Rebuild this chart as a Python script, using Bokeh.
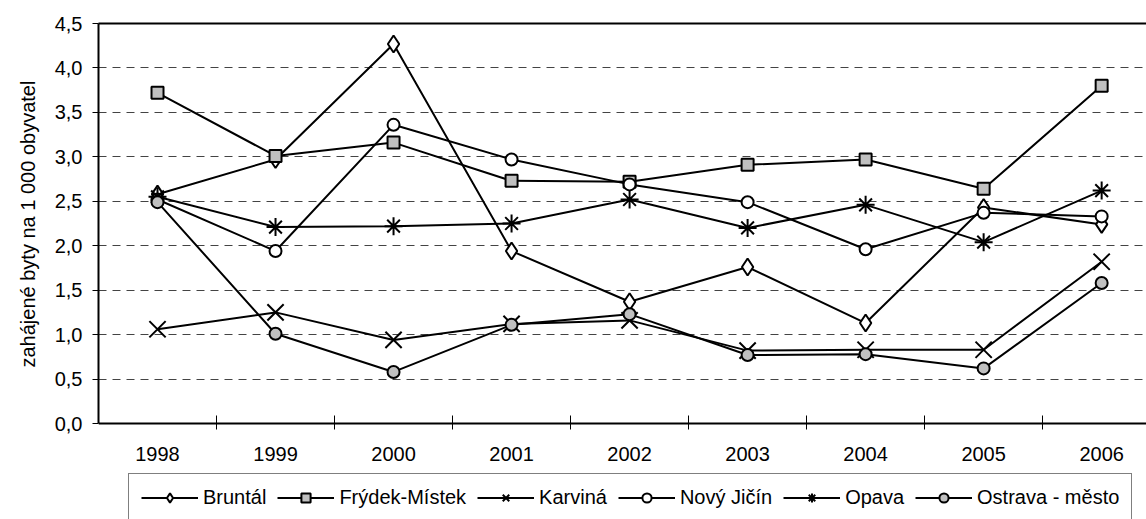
from bokeh.plotting import figure
from bokeh.models import (Range1d, FixedTicker, LinearAxis, Legend, LegendItem,
                          CustomJSTickFormatter, Title)
from bokeh.embed import file_html
from bokeh.resources import INLINE

years = [1998, 1999, 2000, 2001, 2002, 2003, 2004, 2005, 2006]
bruntal = [2.58, 2.97, 4.27, 1.94, 1.37, 1.76, 1.13, 2.43, 2.24]
frydek_mistek = [3.72, 3.01, 3.16, 2.73, 2.72, 2.91, 2.97, 2.64, 3.80]
karvina = [1.06, 1.25, 0.94, 1.12, 1.16, 0.82, 0.83, 0.83, 1.82]
novy_jicin = [2.52, 1.94, 3.36, 2.97, 2.69, 2.49, 1.96, 2.37, 2.33]
opava = [2.55, 2.21, 2.22, 2.25, 2.52, 2.20, 2.46, 2.04, 2.62]
ostrava_mesto = [2.49, 1.01, 0.58, 1.11, 1.23, 0.77, 0.78, 0.62, 1.58]

series_names = ["Bruntál", "Frýdek-Místek", "Karviná", "Nový Jičín", "Opava", "Ostrava - město"]
series_values = [bruntal, frydek_mistek, karvina, novy_jicin, opava, ostrava_mesto]
y_ticks = [0.0, 0.5, 1.0, 1.5, 2.0, 2.5, 3.0, 3.5, 4.0, 4.5]
grid_ticks = [0.5, 1.0, 1.5, 2.0, 2.5, 3.0, 3.5, 4.0]
y_min, y_max = 0.0, 4.5
y_title = "zahájené byty na 1 000 obyvatel"

FONT = "Liberation Sans"

# frame spans down to the bottom of the canvas so that the legend (drawn in
# the frame) can sit below the x axis, which is fixed at y = 0
p = figure(width=1146, height=519,
           x_range=Range1d(1997.5, 2006.38), y_range=Range1d(-1.08, y_max),
           output_backend="svg", toolbar_location=None,
           min_border_left=98, min_border_right=0, min_border_top=23,
           min_border_bottom=0)
p.outline_line_color = None
p.background_fill_color = "white"
p.border_fill_color = "white"

# x axis
xa = p.xaxis[0]
xa.fixed_location = y_min
xa.ticker = FixedTicker(ticks=years, minor_ticks=[y + 0.5 for y in years])
xa.major_tick_out = 0
xa.major_tick_in = 0
xa.minor_tick_in = 8
xa.minor_tick_out = 6
xa.minor_tick_line_color = "black"
xa.minor_tick_line_width = 1
xa.axis_line_color = "black"
xa.axis_line_width = 2
xa.major_label_text_font = FONT
xa.major_label_text_font_size = "20px"
xa.major_label_text_color = "black"
xa.major_label_standoff = 17

# y axis
ya = p.yaxis[0]
ya.bounds = (y_min, y_max)
ya.ticker = FixedTicker(ticks=y_ticks)
ya.formatter = CustomJSTickFormatter(code="return tick.toFixed(1).replace('.', ',')")
ya.major_tick_out = 6
ya.major_tick_in = 0
ya.minor_tick_out = 0
ya.minor_tick_in = 0
ya.major_tick_line_color = "black"
ya.axis_line_color = "black"
ya.axis_line_width = 2
ya.major_label_text_font = FONT
ya.major_label_text_font_size = "20px"
ya.major_label_text_color = "black"
ya.major_label_standoff = 10

# y axis title, placed on the 0 - 4.5 part of the frame
p.add_layout(Title(text=y_title, align="left", offset=152, standoff=26,
                   text_font=FONT, text_font_size="20px",
                   text_font_style="normal", text_color="black"), "left")

# top border line
top = LinearAxis(ticker=FixedTicker(ticks=[]), major_tick_out=0, major_tick_in=0,
                 minor_tick_out=0, minor_tick_in=0, major_label_standoff=0,
                 major_label_text_font_size="0px", axis_line_width=2,
                 axis_line_color="black")
p.add_layout(top, "above")

# grid
p.xgrid.visible = False
p.ygrid.ticker = FixedTicker(ticks=grid_ticks)
p.ygrid.grid_line_color = "#444444"
p.ygrid.grid_line_dash = "8 6"
p.ygrid.grid_line_width = 1

GRAY = "#c0c0c0"
markers = [
    dict(marker="diamond", size=17, fill_color="white"),
    dict(marker="square", size=12, fill_color=GRAY),
    dict(marker="x", size=23, fill_color=None),
    dict(marker="circle", size=12, fill_color="white"),
    dict(marker="asterisk", size=18, fill_color=None),
    dict(marker="circle", size=12, fill_color=GRAY),
]

items = []
for name, vals, m in zip(series_names, series_values, markers):
    ln = p.line(years, vals, line_color="black", line_width=2)
    sc = p.scatter(years, vals, marker=m["marker"], size=m["size"],
                   fill_color=m["fill_color"], line_color="black", line_width=2)
    items.append(LegendItem(label=name, renderers=[ln, sc]))

legend = Legend(items=items, orientation="horizontal", location=(30, -3),
                label_text_font=FONT, label_text_font_size="20px",
                label_text_color="black",
                glyph_width=57, glyph_height=23, label_height=23,
                label_standoff=5, spacing=11, padding=12, margin=0,
                border_line_color="black", border_line_width=1,
                background_fill_color="white", background_fill_alpha=1)
p.add_layout(legend, "center")

open("out.html", "w").write(file_html(p, INLINE))
